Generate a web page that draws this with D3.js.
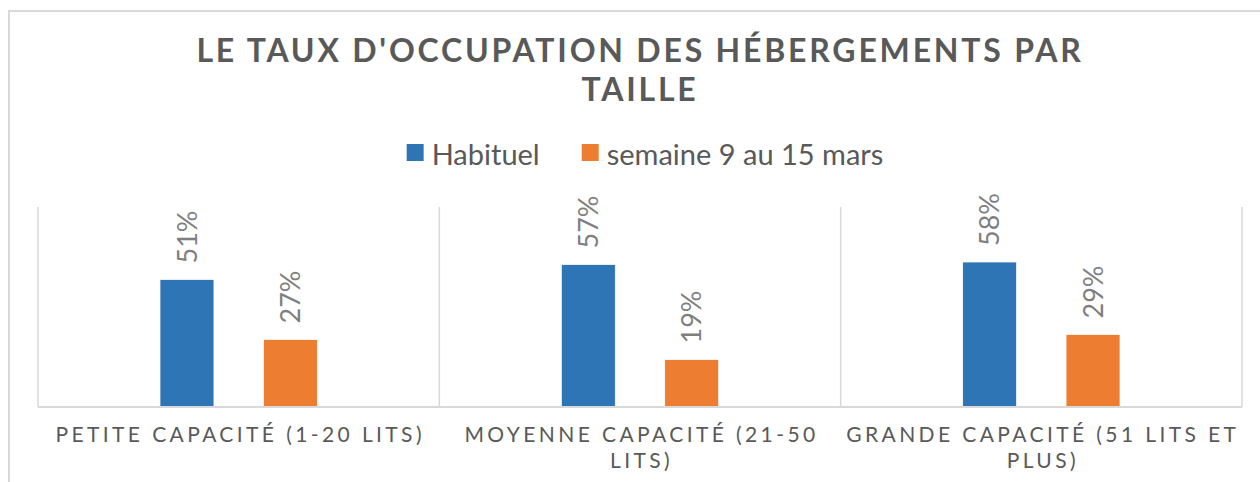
<!DOCTYPE html>
<html>
<head>
<meta charset="utf-8">
<script src="https://cdn.jsdelivr.net/npm/d3@7"></script>
<style>
  body { margin: 0; background: #fff; }
  text { font-family: Lato, "Open Sans", sans-serif; }
</style>
</head>
<body>
<div id="chart"></div>
<script>
var width = 1260,
    height = 482;

// data
var categories = ["PETITE CAPACITÉ (1-20 LITS)", "MOYENNE CAPACITÉ (21-50 LITS)", "GRANDE CAPACITÉ (51 LITS ET PLUS)"];
var seriesNames = ["Habituel", "semaine 9 au 15 mars"];
var habituel = [0.51, 0.57, 0.58];
var semaine = [0.27, 0.19, 0.29];
var titleLines = ["LE TAUX D'OCCUPATION DES HÉBERGEMENTS PAR", "TAILLE"];

var colors = ["#2e75b6", "#ed7d31"];
var values = [habituel, semaine];

var svg = d3.select("#chart").append("svg")
    .attr("width", width)
    .attr("height", height);

// chart frame (cut at right/bottom like the source)
svg.append("rect")
    .attr("x", 9).attr("y", 11)
    .attr("width", 1300).attr("height", 600)
    .attr("fill", "#fff")
    .attr("stroke", "#d9d9d9")
    .attr("stroke-width", 2);

var plot = {left: 38, right: 1242, top: 207, bottom: 407};

var x0 = d3.scaleBand()
    .domain(categories)
    .range([plot.left, plot.right])
    .padding(0);

var x1 = d3.scaleBand()
    .domain(seriesNames)
    .range([0, x0.bandwidth()])
    .paddingInner(0.478)
    .paddingOuter(1.18);

var y = d3.scaleLinear()
    .domain([0, 0.8])
    .range([plot.bottom, plot.top]);

// category separators
svg.append("g")
    .selectAll("line")
    .data(categories.concat(["end"]))
    .enter().append("line")
    .attr("x1", function(d, i) { return i < categories.length ? x0(d) : plot.right; })
    .attr("x2", function(d, i) { return i < categories.length ? x0(d) : plot.right; })
    .attr("y1", plot.top)
    .attr("y2", plot.bottom)
    .attr("stroke", "#d9d9d9")
    .attr("stroke-width", 1.5);

// bars
var rows = [];
categories.forEach(function(c, i) {
    seriesNames.forEach(function(s, j) {
        rows.push({cat: c, series: s, si: j, value: values[j][i]});
    });
});

svg.append("g")
    .selectAll("rect")
    .data(rows)
    .enter().append("rect")
    .attr("x", function(d) { return x0(d.cat) + x1(d.series); })
    .attr("y", function(d) { return y(d.value); })
    .attr("width", x1.bandwidth())
    .attr("height", function(d) { return y(0) - y(d.value); })
    .attr("fill", function(d) { return colors[d.si]; })
    .attr("stroke", "#fff")
    .attr("stroke-width", 0.75);

// value labels, rotated
svg.append("g")
    .selectAll("text")
    .data(rows)
    .enter().append("text")
    .attr("transform", function(d) {
        var cx = x0(d.cat) + x1(d.series) + x1.bandwidth() / 2;
        return "translate(" + cx + "," + (y(d.value) - 16) + ") rotate(-90)";
    })
    .attr("dy", "0.36em")
    .attr("text-anchor", "start")
    .attr("font-size", 27)
    .attr("fill", "#7f7f7f")
    .text(function(d) { return Math.round(d.value * 100) + "%"; });

// baseline axis
svg.append("line")
    .attr("x1", plot.left).attr("x2", plot.right)
    .attr("y1", plot.bottom).attr("y2", plot.bottom)
    .attr("stroke", "#d9d9d9")
    .attr("stroke-width", 2);

// category labels with wrapping
var catG = svg.append("g");
categories.forEach(function(c) {
    var t = catG.append("text")
        .attr("x", x0(c) + x0.bandwidth() / 2 + 1.5)
        .attr("y", 442)
        .attr("text-anchor", "middle")
        .attr("font-size", 21)
        .attr("letter-spacing", 3.4)
        .attr("fill", "#595959");
    var words = c.split(" "), line = [];
    var tspan = t.append("tspan").attr("x", t.attr("x")).attr("dy", 0);
    words.forEach(function(w) {
        line.push(w);
        tspan.text(line.join(" "));
        if (tspan.node().getComputedTextLength() > x0.bandwidth() - 6 && line.length > 1) {
            line.pop();
            tspan.text(line.join(" "));
            line = [w];
            tspan = t.append("tspan").attr("x", t.attr("x")).attr("dy", 26).text(w);
        }
    });
});

// title
svg.append("text")
    .attr("x", 640)
    .attr("y", 62)
    .attr("text-anchor", "middle")
    .attr("font-size", 32)
    .attr("font-weight", "bold")
    .attr("letter-spacing", 2.8)
    .attr("fill", "#595959")
    .selectAll("tspan")
    .data(titleLines)
    .enter().append("tspan")
    .attr("x", 640)
    .attr("dy", function(d, i) { return i === 0 ? 0 : 39; })
    .text(function(d) { return d; });

// legend
var legend = svg.append("g");
var lx = 0;
seriesNames.forEach(function(s, i) {
    var g = legend.append("g").attr("transform", "translate(" + lx + ",0)");
    g.append("rect")
        .attr("x", 0).attr("y", 144)
        .attr("width", 17).attr("height", 17)
        .attr("fill", colors[i]);
    var t = g.append("text")
        .attr("x", 25)
        .attr("y", 165)
        .attr("font-size", 29)
        .attr("fill", "#595959")
        .text(s);
    lx += 25 + t.node().getComputedTextLength() + 42;
});
var lw = lx - 42;
legend.attr("transform", "translate(" + (645 - lw / 2) + ",0)");
</script>
</body>
</html>
